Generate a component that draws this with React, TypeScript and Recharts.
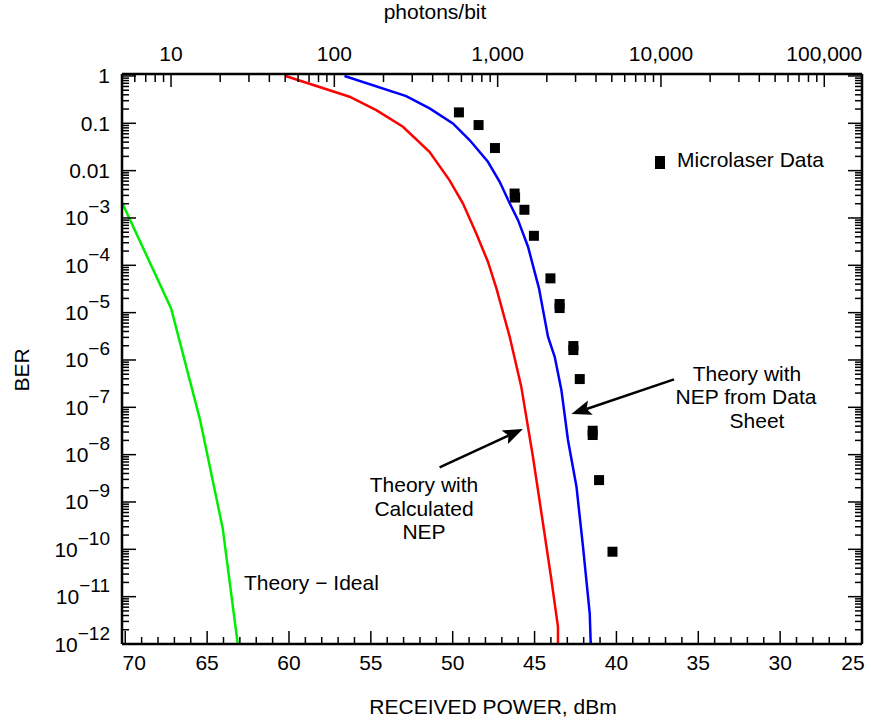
import React from 'react';
import { ComposedChart, Line, Scatter, XAxis, YAxis, ReferenceLine, Customized } from 'recharts';

const FONT = '"Liberation Sans", Arial, Helvetica, sans-serif';

// received power is plotted as -dBm (axis runs 70 -> 25)
const idealPower = [70.22, 67.2, 65.43, 64.05, 63.13];
const idealBer = [2.2e-3, 1.23e-5, 5.4e-8, 2.8e-10, 1e-12];

const calcPower = [60.21, 56.3, 54.67, 53.04, 51.42, 50.2, 49.38, 48.56, 47.85, 47.33, 46.52, 45.81, 45.1, 44.58, 43.97, 43.57, 43.57];
const calcBer = [1, 0.364, 0.19, 0.0845, 0.025, 6.3e-3, 2.04e-3, 4.7e-4, 1.19e-4, 3.26e-5, 3.1e-6, 2.7e-7, 9.0e-9, 5.8e-10, 2.25e-11, 2.3e-12, 1e-12];

const sheetPower = [56.61, 52.84, 51.41, 49.99, 48.97, 47.85, 47.13, 46.52, 46.01, 45.4, 44.73, 44.18, 43.77, 43.36, 42.96, 42.44, 42.04, 41.63, 41.57];
const sheetBer = [1, 0.376, 0.207, 0.0997, 0.0443, 0.0154, 5.8e-3, 2.04e-3, 9.0e-4, 2.47e-4, 3.26e-5, 3.1e-6, 1.17e-6, 2.3e-7, 2.04e-8, 2.1e-9, 1.13e-10, 4.4e-12, 1e-12];

const microPower = [49.62, 48.42, 47.42, 46.22, 46.19, 45.62, 45.04, 44.03, 43.47, 43.47, 42.63, 42.63, 42.24, 41.45, 41.45, 41.06, 40.24];
const microBer = [0.17, 0.0918, 0.03, 3.28e-3, 2.7e-3, 1.49e-3, 4.2e-4, 5.3e-5, 1.52e-5, 1.25e-5, 1.97e-6, 1.62e-6, 3.95e-7, 3.2e-8, 2.6e-8, 2.9e-9, 8.9e-11];

// axis labels
const powerLabels = [70, 65, 60, 55, 50, 45, 40, 35, 30, 25];
const photonValues = [10, 100, 1000, 10000, 100000];
const photonLabels = ['10', '100', '1,000', '10,000', '100,000'];
const berExponents = [0, -1, -2, -3, -4, -5, -6, -7, -8, -9, -10, -11, -12];

const powerDomain = [25, 70.2];
const photonDomain = [5.01, 170200];
const berDomain = [1e-12, 1.1];

// arrows for the annotations
const arrowCalc = [{ x: 50.8, y: 5.4e-9 }, { x: 45.71, y: 3.5e-8 }];
const arrowSheet = [{ x: 36.48, y: 3.9e-7 }, { x: 42.75, y: 7.2e-8 }];

const toRows = (p: number[], b: number[]) => p.map((v, i) => ({ p: v, ber: b[i] }));
const idealData = toRows(idealPower, idealBer);
const calcData = toRows(calcPower, calcBer);
const sheetData = toRows(sheetPower, sheetBer);
const microData = toRows(microPower, microBer);
// invisible anchor so the photons/bit axis gets drawn
const photonAnchor = photonValues.map(v => ({ photons: v, ber: 1 }));

// ticks: majors from the label lists, minors in between
const powerTicks: number[] = [];
for (let v = 25; v <= 70; v++) powerTicks.push(v);

const photonTicks: number[] = [];
[1, 10, 100, 1000, 10000, 100000].forEach(d => {
  for (let k = 1; k <= 9; k++) {
    const v = k * d;
    if (v >= photonDomain[0] && v <= photonDomain[1]) photonTicks.push(v);
  }
});

const berTicks: number[] = [];
berExponents.forEach(e => {
  for (let k = 1; k <= 9; k++) {
    const v = k * Math.pow(10, e);
    if (v >= berDomain[0] * 0.999 && v <= berDomain[1]) berTicks.push(v);
  }
});

const isDecade = (v: number) => Math.abs(Math.log10(v) - Math.round(Math.log10(v))) < 1e-6;

const PowerTick = ({ x, y, payload }: any) => {
  const v = payload.value;
  const major = powerLabels.includes(v);
  const shift = v === 70 ? 9 : v === 25 ? -9 : 0;
  return (
    <g>
      <line x1={x} x2={x} y1={y} y2={y - (major ? 13 : 7)} stroke="#000" strokeWidth={1.5} />
      {major && (
        <text x={x + shift} y={y + 26} textAnchor="middle" fontSize={21} fontFamily={FONT} fill="#000">
          {v}
        </text>
      )}
    </g>
  );
};

const PhotonTick = ({ x, y, payload }: any) => {
  const idx = photonValues.indexOf(payload.value);
  const major = idx >= 0;
  return (
    <g>
      <line x1={x} x2={x} y1={y} y2={y + (major ? 13 : 8)} stroke="#000" strokeWidth={1.5} />
      {major && (
        <text x={x} y={y - 13} textAnchor="middle" fontSize={21} fontFamily={FONT} fill="#000">
          {photonLabels[idx]}
        </text>
      )}
    </g>
  );
};

const berLabel = (e: number) => {
  if (e === 0) return '1';
  if (e === -1) return '0.1';
  if (e === -2) return '0.01';
  return null;
};

const BerTick = ({ x, y, payload }: any) => {
  const v = payload.value;
  const major = isDecade(v);
  const e = Math.round(Math.log10(v));
  const plain = berLabel(e);
  return (
    <g>
      <line x1={x} x2={x + (major ? 14 : 7)} y1={y} y2={y} stroke="#000" strokeWidth={1.5} />
      {major && (
        <text x={x - 12} y={y + 7.5} textAnchor="end" fontSize={21} fontFamily={FONT} fill="#000">
          {plain !== null ? plain : (
            <>
              10<tspan dy={-12} fontSize={19}>{'\u2212' + Math.abs(e)}</tspan>
            </>
          )}
        </text>
      )}
    </g>
  );
};

const BerTickRight = ({ x, y, payload }: any) => {
  const major = isDecade(payload.value);
  return <line x1={x} x2={x - (major ? 14 : 7)} y1={y} y2={y} stroke="#000" strokeWidth={1.5} />;
};

const Square = (props: any) => (
  <rect x={props.cx - 5} y={props.cy - 5} width={10} height={10} fill="#000" />
);

const Nothing = () => null;

const Arrow = (props: any) => {
  const { x1, y1, x2, y2 } = props;
  const dx = x2 - x1;
  const dy = y2 - y1;
  const len = Math.hypot(dx, dy) || 1;
  const ux = dx / len;
  const uy = dy / len;
  const hl = 20;
  const hw = 7.5;
  const bx = x2 - ux * hl;
  const by = y2 - uy * hl;
  const pts = `${x2},${y2} ${bx - uy * hw},${by + ux * hw} ${bx + ux * 4},${by + uy * 4} ${bx + uy * hw},${by - ux * hw}`;
  return (
    <g>
      <line x1={x1} y1={y1} x2={bx + ux * 4} y2={by + uy * 4} stroke="#000" strokeWidth={2.5} />
      <polygon points={pts} fill="#000" />
    </g>
  );
};

const Annotations = () => (
  <g fontFamily={FONT} fontSize={21} fill="#000">
    <text x={435} y={19} textAnchor="middle">photons/bit</text>
    <text x={493} y={714} textAnchor="middle">RECEIVED POWER, dBm</text>
    <text x={29} y={370} textAnchor="middle" transform="rotate(-90, 29, 370)">BER</text>
    <rect x={655} y={156} width={10} height={13} fill="#000" />
    <text x={677} y={167}>Microlaser Data</text>
    <text x={244} y={590}>Theory {'\u2212'} Ideal</text>
    <text x={424} y={492} textAnchor="middle">Theory with</text>
    <text x={424} y={516} textAnchor="middle">Calculated</text>
    <text x={424} y={539} textAnchor="middle">NEP</text>
    <text x={747} y={381} textAnchor="middle">Theory with</text>
    <text x={746} y={404} textAnchor="middle">NEP from Data</text>
    <text x={757} y={428} textAnchor="middle">Sheet</text>
  </g>
);

const axisLine = { stroke: '#000', strokeWidth: 2.5 };

export default function App() {
  return (
    <div style={{ position: 'absolute', left: 0, top: 0, width: 871, height: 723, background: '#fff' }}>
      <ComposedChart width={871} height={723} margin={{ top: 0, right: 0, bottom: 0, left: 0 }}>
        <XAxis
          xAxisId="power"
          dataKey="p"
          type="number"
          domain={powerDomain}
          reversed
          allowDataOverflow
          ticks={powerTicks}
          interval={0}
          tick={PowerTick}
          tickLine={false}
          tickSize={0}
          tickMargin={0}
          height={79}
          axisLine={axisLine}
        />
        <XAxis
          xAxisId="photons"
          dataKey="photons"
          orientation="top"
          type="number"
          scale="log"
          domain={photonDomain}
          allowDataOverflow
          ticks={photonTicks}
          interval={0}
          tick={PhotonTick}
          tickLine={false}
          tickSize={0}
          tickMargin={0}
          height={74}
          axisLine={axisLine}
        />
        <YAxis
          yAxisId="ber"
          dataKey="ber"
          type="number"
          scale="log"
          domain={berDomain}
          allowDataOverflow
          ticks={berTicks}
          interval={0}
          tick={BerTick}
          tickLine={false}
          tickSize={0}
          tickMargin={0}
          width={122}
          axisLine={axisLine}
        />
        <YAxis
          yAxisId="berRight"
          orientation="right"
          type="number"
          scale="log"
          domain={berDomain}
          allowDataOverflow
          ticks={berTicks}
          interval={0}
          tick={BerTickRight}
          tickLine={false}
          tickSize={0}
          tickMargin={0}
          width={9}
          axisLine={axisLine}
        />
        <Scatter xAxisId="photons" yAxisId="ber" data={photonAnchor} dataKey="ber" shape={Nothing} isAnimationActive={false} />
        <Line xAxisId="power" yAxisId="ber" data={idealData} dataKey="ber" type="linear" stroke="#00ee00" strokeWidth={2.5} dot={false} isAnimationActive={false} />
        <Line xAxisId="power" yAxisId="ber" data={calcData} dataKey="ber" type="linear" stroke="#ff0000" strokeWidth={2.5} dot={false} isAnimationActive={false} />
        <Line xAxisId="power" yAxisId="ber" data={sheetData} dataKey="ber" type="linear" stroke="#0000ff" strokeWidth={2.5} dot={false} isAnimationActive={false} />
        <Scatter xAxisId="power" yAxisId="ber" data={microData} dataKey="ber" shape={Square} isAnimationActive={false} />
        <ReferenceLine xAxisId="power" yAxisId="ber" segment={arrowCalc} shape={Arrow} ifOverflow="visible" />
        <ReferenceLine xAxisId="power" yAxisId="ber" segment={arrowSheet} shape={Arrow} ifOverflow="visible" />
        <Customized component={Annotations} />
      </ComposedChart>
    </div>
  );
}
